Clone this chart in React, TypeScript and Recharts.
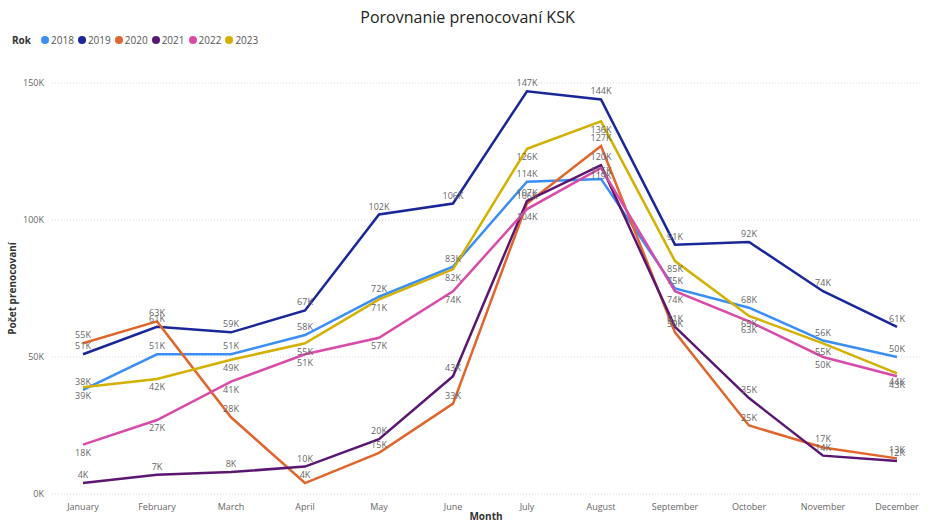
import React from 'react';
import { LineChart, Line, XAxis, YAxis, CartesianGrid, LabelList } from 'recharts';

const months = ['January','February','March','April','May','June','July','August','September','October','November','December'];
const years = ['2018','2019','2020','2021','2022','2023'];
const colors = ['#3A8EF6','#1A2799','#E0662E','#5A1670','#D94BA8','#D4B000'];
const v2018 = [38000,51000,51000,58000,72000,83000,114000,115000,75000,68000,56000,50000];
const v2019 = [51000,61000,59000,67000,102000,106000,147000,144000,91000,92000,74000,61000];
const v2020 = [55000,63000,28000,4000,15000,33000,106000,127000,59000,25000,17000,13000];
const v2021 = [4000,7000,8000,10000,20000,43000,107000,120000,61000,35000,14000,12000];
const v2022 = [18000,27000,41000,51000,57000,74000,104000,119000,74000,63000,50000,43000];
const v2023 = [39000,42000,49000,55000,71000,82000,126000,136000,85000,65000,55000,44000];
const series = [v2018, v2019, v2020, v2021, v2022, v2023];
const yTicks = [0, 50000, 100000, 150000];
const labelPos: ('top' | 'bottom')[] = ['top','top','top','top','bottom','bottom'];

const data = months.map((m, i) => {
  const row: any = { month: m };
  years.forEach((y, k) => { row[y] = series[k][i]; });
  return row;
});

const fmt = (v: number) => `${Math.round(v / 1000)}K`;
const FONT = '"Open Sans", "Noto Sans", sans-serif';

const LegendBox = () => (
  <div style={{ position: 'absolute', top: 33, left: 12, display: 'flex', alignItems: 'center', fontFamily: FONT, fontSize: 10, color: '#555' }}>
    <span style={{ fontWeight: 700, color: '#333', marginRight: 10 }}>Rok</span>
    {years.map((y, k) => (
      <span key={y} style={{ display: 'flex', alignItems: 'center', marginRight: 4 }}>
        <span style={{ width: 8, height: 8, borderRadius: 4, background: colors[k], display: 'inline-block', marginRight: 2 }} />
        {y}
      </span>
    ))}
  </div>
);

export default function App() {
  return (
    <div style={{ position: 'absolute', left: 0, top: 0, width: 935, height: 524, background: '#fff', fontFamily: FONT }}>
      <div style={{ position: 'absolute', top: 6, left: 0, width: 935, textAlign: 'center', fontSize: 16, color: '#252423' }}>
        Porovnanie prenocovaní KSK
      </div>
      <LegendBox />
      <LineChart width={935} height={524} data={data} margin={{ top: 83, right: 15, bottom: 0, left: 0 }}>
        <CartesianGrid vertical={false} stroke="#d8d8d8" strokeDasharray="1 2" />
        <XAxis
          dataKey="month"
          padding={{ left: 31, right: 23 }}
          axisLine={false}
          tickLine={false}
          tick={{ fontSize: 9, fill: '#666', fontFamily: FONT }}
          tickMargin={4}
          height={30}
          label={{ value: 'Month', position: 'insideBottom', offset: 4, fontSize: 10, fontWeight: 700, fill: '#333' }}
        />
        <YAxis
          domain={[0, 150000]}
          ticks={yTicks}
          tickFormatter={fmt}
          axisLine={false}
          tickLine={false}
          width={52}
          tick={{ fontSize: 9, fill: '#666', fontFamily: FONT }}
          label={{ value: 'Počet prenocovaní', angle: -90, position: 'insideLeft', offset: 12, fontSize: 10, fontWeight: 700, fill: '#333', style: { textAnchor: 'middle' } }}
        />
        {years.map((y, k) => (
          <Line key={y} type="linear" dataKey={y} stroke={colors[k]} strokeWidth={2.5} dot={false} isAnimationActive={false}>
            <LabelList dataKey={y} position={labelPos[k]} formatter={(v: any) => fmt(Number(v))} fontSize={9} fill="#666" offset={5} />
          </Line>
        ))}
      </LineChart>
    </div>
  );
}
